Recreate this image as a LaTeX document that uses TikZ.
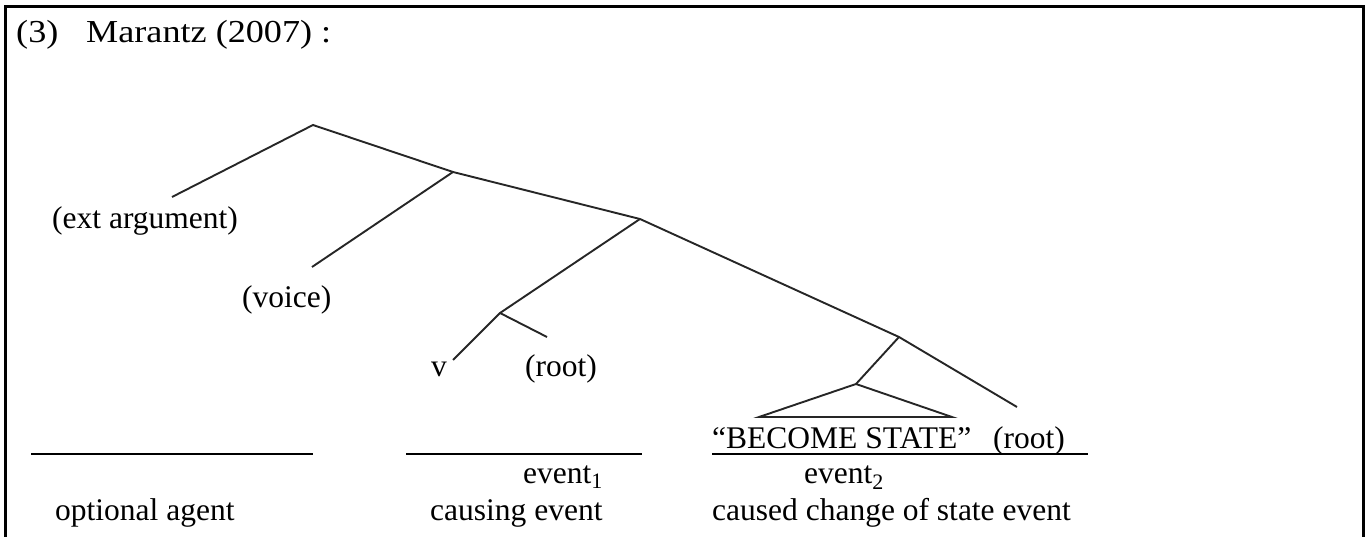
\documentclass[tikz,border=0pt]{standalone}
\usepackage{fontspec}
\setmainfont{Liberation Serif}
\begin{document}
\begin{tikzpicture}[x=1pt,y=-1pt,
  txt/.style={anchor=base west,inner sep=0pt,font=\fontsize{31.5}{37}\selectfont},
  ttl/.style={anchor=base west,inner sep=0pt,xscale=1.13,font=\fontsize{32}{38}\selectfont},
  branch/.style={line width=1.9pt,black!85},
  rule/.style={line width=1.9pt,black},
  frame/.style={line width=3pt,black}]
\useasboundingbox (0,0) rectangle (1366,537);
% frame
\draw[frame] (5,540) -- (5,7) -- (1363,7) -- (1363,540);
% title
\node[ttl] (num) at (16,43) {(3)};
\node[ttl] (title) at (86,43) {Marantz (2007) :};
% tree points
\coordinate (A) at (313,125);
\coordinate (B) at (453,172);
\coordinate (C) at (640,219);
\coordinate (D) at (500,313);
\coordinate (E) at (899,337);
\coordinate (F) at (856,384);
\coordinate (extE) at (172,197);
\coordinate (voiceE) at (312,267);
\coordinate (vE) at (453,360);
\coordinate (rootE) at (547,337);
\coordinate (root2E) at (1017,407);
\coordinate (triL) at (759,417);
\coordinate (triR) at (952,417);
\draw[branch] (extE) -- (A) -- (B) -- (C) -- (E) -- (root2E);
\draw[branch] (B) -- (voiceE);
\draw[branch] (C) -- (D) -- (vE);
\draw[branch] (D) -- (rootE);
\draw[branch] (E) -- (F);
\draw[branch] (F) -- (triL) -- (triR) -- cycle;
% leaves
\node[txt] (ext) at (52,229) {(ext argument)};
\node[txt] (voice) at (242,308) {(voice)};
\node[txt] (v) at (431,377) {v};
\node[txt] (root1) at (525,377) {(root)};
\node[txt] (become) at (712,448) {``BECOME STATE''};
\node[txt] (root2) at (993,448) {(root)};
% rules
\coordinate (r1a) at (31,454); \coordinate (r1b) at (313,454);
\coordinate (r2a) at (406,454); \coordinate (r2b) at (642,454);
\coordinate (r3a) at (712,454); \coordinate (r3b) at (1088,454);
\draw[rule] (r1a) -- (r1b);
\draw[rule] (r2a) -- (r2b);
\draw[rule] (r3a) -- (r3b);
% labels
\node[txt] (ev1) at (523,483) {event\textsubscript{1}};
\node[txt] (ev2) at (804,483) {event\textsubscript{2}};
\node[txt] (opt) at (55,520) {optional agent};
\node[txt] (caus) at (430,520) {causing event};
\node[txt] (caused) at (712,520) {caused change of state event};
\end{tikzpicture}
\end{document}
